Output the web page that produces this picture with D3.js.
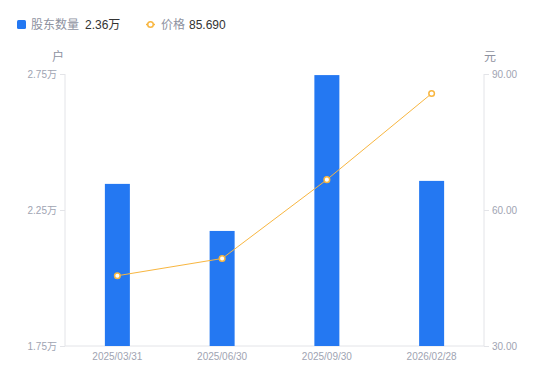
<html>
<head>
<script src="https://d3js.org/d3.v7.min.js"></script>
<style>
  body { margin: 0; background: #fff; font-family: "Liberation Sans", Arial, "Noto Sans CJK SC", sans-serif; }
  .tick text { fill: #a0a4b2; font-size: 10px; font-family: "Liberation Sans", Arial, "Noto Sans CJK SC", sans-serif; }
  .unit { fill: #8e929f; font-size: 12px; }
  .legend text { font-size: 12px; }
</style>
</head>
<body>
<svg id="chart" width="550" height="381"></svg>
<script>
const dates = ["2025/03/31", "2025/06/30", "2025/09/30", "2026/02/28"];
const holders = [2.346, 2.173, 2.746, 2.357];   // 万户
const prices = [45.5, 49.3, 66.7, 85.69];       // 元
const leftTicks = [1.75, 2.25, 2.75];
const rightTicks = [30, 60, 90];

const svg = d3.select("#chart");
const margin = { top: 74, right: 66, bottom: 35, left: 65 };
const width = 550, height = 381;
const x0 = margin.left, x1 = width - margin.right;
const yTop = margin.top, yBot = height - margin.bottom;

const x = d3.scaleBand().domain(dates).range([x0, x1]);
const yL = d3.scaleLinear().domain([1.75, 2.75]).range([yBot, yTop]);
const yR = d3.scaleLinear().domain([30, 90]).range([yBot, yTop]);

// axes
const leftAxis = svg.append("g")
    .attr("transform", "translate(" + x0 + ",0)")
    .call(d3.axisLeft(yL).tickValues(leftTicks).tickSize(5).tickPadding(3)
        .tickFormat(d => d3.format(".2f")(d) + "万"));
const rightAxis = svg.append("g")
    .attr("transform", "translate(" + x1 + ",0)")
    .call(d3.axisRight(yR).tickValues(rightTicks).tickSize(5).tickPadding(3)
        .tickFormat(d3.format(".2f")));
const bottomAxis = svg.append("g")
    .attr("transform", "translate(0," + yBot + ")")
    .call(d3.axisBottom(x).tickSize(0).tickPadding(7));

svg.selectAll(".domain").attr("stroke", "#e3e4e8");
svg.selectAll(".tick line").attr("stroke", "#e3e4e8");
leftAxis.select(".domain").attr("d", "M0," + yTop + "V" + yBot);
rightAxis.select(".domain").attr("d", "M0," + yTop + "V" + yBot);
bottomAxis.select(".domain").attr("d", "M" + x0 + ",0H" + x1);

// unit labels
svg.append("text").attr("class", "unit").attr("x", 58).attr("y", 61)
    .attr("text-anchor", "middle").text("户");
svg.append("text").attr("class", "unit").attr("x", 490).attr("y", 61)
    .attr("text-anchor", "middle").text("元");

// bars
const barW = 25;
svg.selectAll("rect.bar").data(holders)
    .join("rect")
    .attr("class", "bar")
    .attr("x", (d, i) => x(dates[i]) + x.bandwidth() / 2 - barW / 2)
    .attr("width", barW)
    .attr("y", d => yL(d))
    .attr("height", d => yBot - yL(d))
    .attr("fill", "#2478f2");

// price line
const line = d3.line()
    .x((d, i) => x(dates[i]) + x.bandwidth() / 2)
    .y(d => yR(d));
svg.append("path").datum(prices)
    .attr("d", line)
    .attr("fill", "none")
    .attr("stroke", "#f8b640")
    .attr("stroke-width", 1);
svg.selectAll("circle.pt").data(prices)
    .join("circle")
    .attr("class", "pt")
    .attr("cx", (d, i) => x(dates[i]) + x.bandwidth() / 2)
    .attr("cy", d => yR(d))
    .attr("r", 2.8)
    .attr("fill", "#fff")
    .attr("stroke", "#f8b640")
    .attr("stroke-width", 1.5);

// legend
const legend = svg.append("g").attr("class", "legend");
legend.append("rect").attr("x", 17).attr("y", 20).attr("width", 9).attr("height", 9)
    .attr("rx", 1.5).attr("fill", "#2478f2");
legend.append("text").attr("x", 31).attr("y", 29)
    .attr("fill", "#8e929f").text("股东数量");
legend.append("text").attr("x", 85).attr("y", 29)
    .attr("fill", "#333").text("2.36万");
legend.append("line").attr("x1", 146).attr("x2", 155).attr("y1", 24.5).attr("y2", 24.5)
    .attr("stroke", "#f8b640").attr("stroke-width", 1.5);
legend.append("circle").attr("cx", 150.5).attr("cy", 24.5).attr("r", 2.8)
    .attr("fill", "#fff").attr("stroke", "#f8b640").attr("stroke-width", 1.5);
legend.append("text").attr("x", 161).attr("y", 29)
    .attr("fill", "#8e929f").text("价格");
legend.append("text").attr("x", 189).attr("y", 29)
    .attr("fill", "#333").text(d3.format(".3f")(prices[3]));
</script>
</body>
</html>
